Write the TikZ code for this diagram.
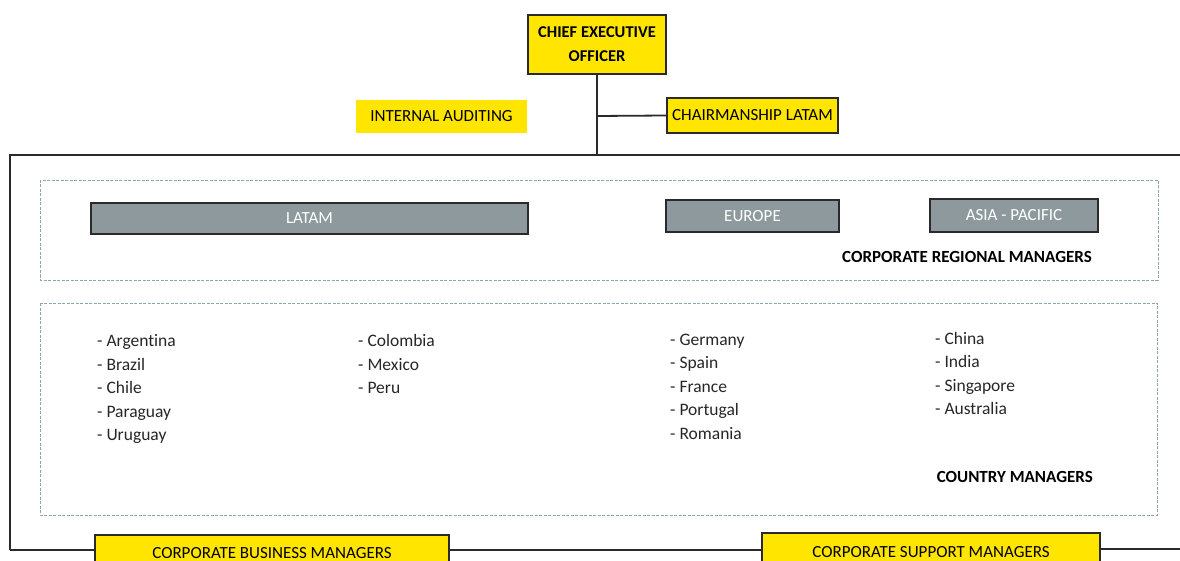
\documentclass[tikz,border=0pt]{standalone}
\usepackage{fontspec}
\setmainfont{Carlito}[Ligatures=NoCommon]
\definecolor{boxyellow}{HTML}{FFE500}
\definecolor{regiongrey}{HTML}{8E999D}
\definecolor{dashblue}{HTML}{8AA6B4}
\definecolor{linegrey}{HTML}{2A2A2A}
\begin{document}
\begin{tikzpicture}[x=1pt,y=-1pt,
  ybox/.style={draw=linegrey,line width=2pt,fill=boxyellow,inner sep=0pt,font=\fontsize{17}{20}\selectfont},
  gbox/.style={draw=linegrey,line width=2.2pt,fill=regiongrey,text=white,inner sep=0pt,font=\fontsize{17}{20}\selectfont},
  frame/.style={draw=dashblue,dashed,line width=0.7pt,dash pattern=on 3pt off 1.5pt},
  conn/.style={draw=linegrey,line width=1.8pt},
  country/.style={anchor=base west,inner sep=0pt,font=\fontsize{17.5}{20}\selectfont,text=black!85},
  heading/.style={anchor=east,inner sep=0pt,font=\bfseries\fontsize{17}{20}\selectfont}]
\useasboundingbox (0,0) rectangle (1180,561);
% top
\node[ybox,minimum width=138,minimum height=59,align=center,font=\bfseries\fontsize{16.5}{24}\selectfont] (ceo) at (597,44.5) {CHIEF EXECUTIVE\\OFFICER};
\node[fill=boxyellow,inner sep=0pt,minimum width=171,minimum height=33,font=\fontsize{17}{20}\selectfont] (audit) at (441.5,116.5) {INTERNAL AUDITING};
\node[ybox,minimum width=171,minimum height=35] (chair) at (752.5,115.5) {CHAIRMANSHIP LATAM};
\coordinate (tjoin) at (597,155);
\coordinate (cjoin) at (597,116);
\coordinate (tl) at (10,155);
\coordinate (tr) at (1180,155);
\coordinate (bl) at (10,550);
\coordinate (br) at (1180,549);
\draw[conn] (ceo.south) -- (tjoin);
\draw[conn] (cjoin) -- (chair.west);
\draw[conn] (tr) -- (tl) -- (bl);
% frames
\draw[frame] (40,180) rectangle (1158,280);
\draw[frame] (40,303) rectangle (1157,515);
% regions
\node[gbox,minimum width=437,minimum height=31] (latam) at (309.5,218.5) {LATAM};
\node[gbox,minimum width=173,minimum height=32] (europe) at (752.5,216) {EUROPE};
\node[gbox,minimum width=168,minimum height=33] (asia) at (1014,215.5) {ASIA - PACIFIC};
\node[heading] (crm) at (1092,257) {CORPORATE REGIONAL MANAGERS};
% countries
\node[country] (arg) at (97,346.5) {- Argentina};
\node[country] (bra) at (97,370) {- Brazil};
\node[country] (chl) at (97,393.5) {- Chile};
\node[country] (par) at (97,417) {- Paraguay};
\node[country] (uru) at (97,440.5) {- Uruguay};
\node[country] (col) at (358,346.5) {- Colombia};
\node[country] (mex) at (358,370) {- Mexico};
\node[country] (per) at (358,393.5) {- Peru};
\node[country] (ger) at (670,345) {- Germany};
\node[country] (spa) at (670,368.5) {- Spain};
\node[country] (fra) at (670,392) {- France};
\node[country] (por) at (670,415.5) {- Portugal};
\node[country] (rom) at (670,439) {- Romania};
\node[country] (chn) at (935,344) {- China};
\node[country] (ind) at (935,367.5) {- India};
\node[country] (sin) at (935,391) {- Singapore};
\node[country] (aus) at (935,414.5) {- Australia};
\node[heading] (cm) at (1093,477) {COUNTRY MANAGERS};
% bottom
\node[ybox,minimum width=354,minimum height=36] (cbm) at (272,553) {CORPORATE BUSINESS MANAGERS};
\node[ybox,minimum width=338,minimum height=38] (csm) at (931,552) {CORPORATE SUPPORT MANAGERS};
\draw[conn] (bl) -- (bl -| cbm.west);
\draw[conn] (cbm.east |- 0,550) -- (csm.west |- 0,550);
\draw[conn] (csm.east |- br) -- (br);
\end{tikzpicture}
\end{document}
